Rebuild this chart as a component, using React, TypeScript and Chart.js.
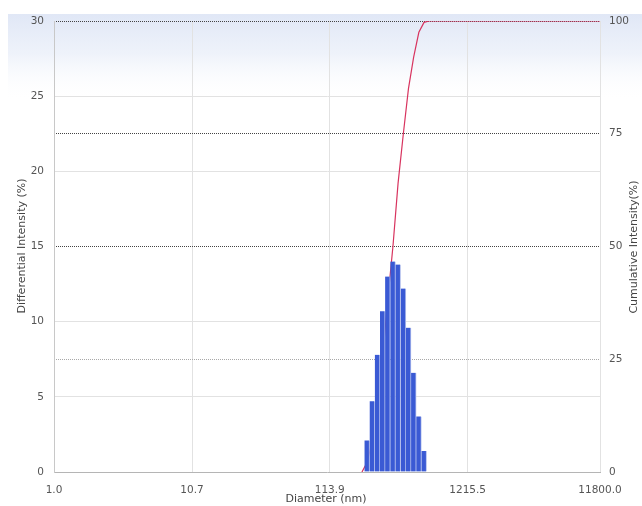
import { useEffect, useRef } from "react";
import { Chart, registerables } from "chart.js";

Chart.register(...registerables);

// Differential intensity histogram (bins in nm)
const diameters = [216, 236, 258, 282, 308, 337, 368, 403, 440, 481, 526, 575];
const differential = [2.1, 4.7, 7.8, 10.7, 13.0, 14.0, 13.8, 12.2, 9.6, 6.6, 3.7, 1.4];

// Cumulative intensity curve
const cumulativeDiameters = [198, 216, 236, 258, 282, 308, 337, 368, 403, 440, 481, 526, 575, 628, 11800];
const cumulative = [0, 2.1, 6.8, 14.6, 25.3, 38.0, 50.0, 64.0, 75.0, 85.0, 92.0, 97.5, 99.7, 100, 100];

// Axis ticks
const xTicks = [1.0, 10.7, 113.9, 1215.5, 11800.0];
const yLeftTicks = [0, 5, 10, 15, 20, 25, 30];
const yRightTicks = [0, 25, 50, 75, 100];

const FONT = '"DejaVu Sans", Verdana, sans-serif';

const bgPlugin = {
  id: "bgPlugin",
  beforeDraw(chart: any) {
    const { ctx, width, height } = chart;
    ctx.save();
    ctx.fillStyle = "#ffffff";
    ctx.fillRect(0, 0, width, height);
    const g = ctx.createLinearGradient(0, 14, 0, 102);
    g.addColorStop(0, "rgba(224,231,246,1)");
    g.addColorStop(0.45, "rgba(234,239,249,0.8)");
    g.addColorStop(1, "rgba(255,255,255,0)");
    ctx.fillStyle = g;
    ctx.fillRect(8, 14, width - 8, 88);
    ctx.restore();
  },
};

const titlePlugin = {
  id: "titlePlugin",
  afterDraw(chart: any) {
    const { ctx } = chart;
    ctx.save();
    ctx.font = `11px ${FONT}`;
    ctx.fillStyle = "#444";
    ctx.textAlign = "center";
    ctx.textBaseline = "middle";
    ctx.fillText("Diameter (nm)", 326, 499);
    ctx.save();
    ctx.translate(22, 246);
    ctx.rotate(-Math.PI / 2);
    ctx.fillText("Differential Intensity (%)", 0, 0);
    ctx.restore();
    ctx.save();
    ctx.translate(634, 247);
    ctx.rotate(-Math.PI / 2);
    ctx.fillText("Cumulative Intensity(%)", 0, 0);
    ctx.restore();
    ctx.restore();
  },
};

export default function App() {
  const ref = useRef<HTMLCanvasElement | null>(null);

  useEffect(() => {
    if (!ref.current) return;
    const chart = new Chart(ref.current, {
      type: "bar",
      data: {
        datasets: [
          {
            type: "bar",
            label: "Differential",
            data: diameters.map((d, i) => ({ x: d, y: differential[i] })),
            backgroundColor: "#3a5ad4",
            borderColor: "#b9c5ef",
            borderWidth: { top: 0, bottom: 0, left: 0, right: 1 },
            borderSkipped: false,
            barPercentage: 1,
            categoryPercentage: 1,
            yAxisID: "y",
            order: 1,
          } as any,
          {
            type: "line",
            label: "Cumulative",
            data: cumulativeDiameters.map((d, i) => ({ x: d, y: cumulative[i] })),
            borderColor: "#d8345f",
            borderWidth: 1.2,
            pointRadius: 0,
            tension: 0,
            fill: false,
            yAxisID: "y1",
            order: 2,
          } as any,
        ],
      },
      options: {
        animation: false,
        responsive: false,
        layout: { padding: { top: 21, left: 0, right: 0, bottom: 0 } },
        plugins: {
          legend: { display: false },
          tooltip: { enabled: false },
        },
        scales: {
          x: {
            type: "logarithmic",
            min: 1,
            max: 11800,
            offset: false,
            afterBuildTicks: (scale: any) => {
              scale.ticks = xTicks.map((v) => ({ value: v }));
            },
            afterFit: (scale: any) => {
              scale.height = 34;
            },
            ticks: {
              callback: (v: any) => Number(v).toFixed(1),
              font: { family: FONT, size: 10.5 },
              color: "#555",
              padding: 12,
              maxRotation: 0,
              autoSkip: false,
            },
            grid: { color: "#e2e2e2", drawTicks: false, offset: false },
            border: { display: true, color: "#b5b5b5" },
          },
          y: {
            position: "left",
            min: 0,
            max: 30,
            afterBuildTicks: (scale: any) => {
              scale.ticks = yLeftTicks.map((v) => ({ value: v }));
            },
            afterFit: (scale: any) => {
              scale.width = 54;
            },
            ticks: {
              font: { family: FONT, size: 10.5 },
              color: "#555",
              padding: 10,
            },
            grid: {
              drawTicks: false,
              color: (c: any) =>
                c.tick && (c.tick.value === 15 || c.tick.value === 30 || c.tick.value === 0)
                  ? "rgba(0,0,0,0)"
                  : "#e2e2e2",
            },
            border: { display: true, color: "#c8c8c8" },
          },
          y1: {
            position: "right",
            min: 0,
            max: 100,
            afterBuildTicks: (scale: any) => {
              scale.ticks = yRightTicks.map((v) => ({ value: v }));
            },
            afterFit: (scale: any) => {
              scale.width = 42;
            },
            ticks: {
              font: { family: FONT, size: 10.5 },
              color: "#555",
              padding: 9,
            },
            grid: {
              drawTicks: false,
              drawOnChartArea: true,
              lineWidth: 1,
              color: (c: any) =>
                c.tick && c.tick.value === 0
                  ? "rgba(0,0,0,0)"
                  : c.tick && c.tick.value === 25
                  ? "#a8a8a8"
                  : "#444",
            },
            border: { display: false, dash: [1, 1] },
          },
        },
      } as any,
      plugins: [bgPlugin, titlePlugin],
    });
    return () => chart.destroy();
  }, []);

  return (
    <div style={{ position: "absolute", left: 0, top: 0, width: 642, height: 506 }}>
      <canvas ref={ref} width={642} height={506} style={{ width: 642, height: 506, display: "block" }} />
    </div>
  );
}
